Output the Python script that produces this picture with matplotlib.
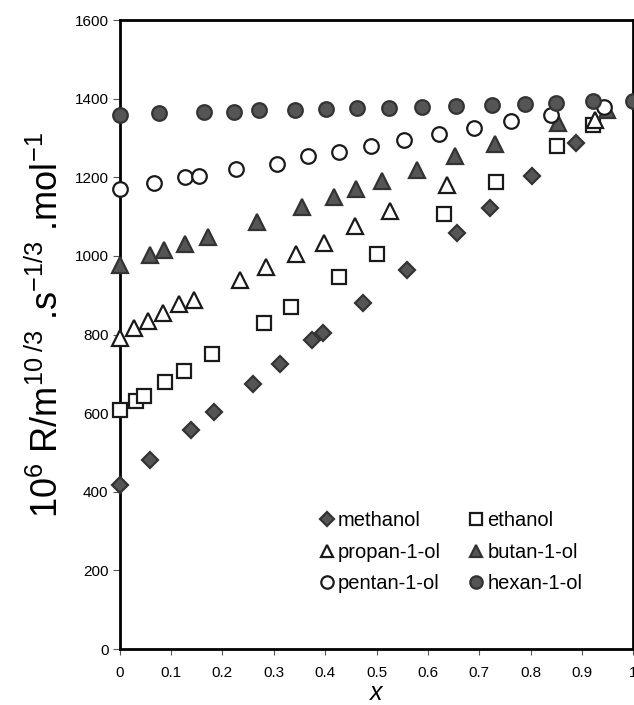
import numpy as np
import matplotlib as mpl

mpl.use('Agg')
import matplotlib.pyplot as plt

plt.rcParams['font.family'] = ['Liberation Sans', 'DejaVu Sans']
plt.rcParams['mathtext.fontset'] = 'custom'
plt.rcParams['mathtext.rm'] = 'Liberation Sans'
plt.rcParams['mathtext.it'] = 'Liberation Sans:italic'
plt.rcParams['mathtext.default'] = 'regular'

# values
x_methanol = [0, 0.060, 0.140, 0.184, 0.260, 0.312, 0.375, 0.395, 0.473, 0.560, 0.656, 0.721, 0.803, 0.889]
y_methanol = [417, 481, 557, 602, 674, 724, 786, 805, 881, 963, 1058, 1121, 1202, 1288]

x_ethanol = [0, 0.032, 0.047, 0.088, 0.126, 0.179, 0.282, 0.333, 0.427, 0.501, 0.631, 0.732, 0.851, 0.922]
y_ethanol = [608, 632, 644, 679, 708, 750, 830, 871, 946, 1004, 1107, 1187, 1280, 1334]

x_propanol = [0, 0.028, 0.056, 0.085, 0.116, 0.145, 0.234, 0.285, 0.344, 0.397, 0.459, 0.526, 0.638, 0.925]
y_propanol = [791, 816, 835, 854, 878, 888, 939, 971, 1005, 1034, 1075, 1115, 1181, 1346]

x_butanol = [0, 0.060, 0.086, 0.127, 0.173, 0.268, 0.355, 0.418, 0.460, 0.510, 0.578, 0.653, 0.731, 0.854, 0.948]
y_butanol = [977, 1003, 1014, 1031, 1048, 1087, 1124, 1151, 1170, 1191, 1219, 1253, 1284, 1338, 1370]

x_pentanol = [0, 0.067, 0.128, 0.155, 0.226, 0.307, 0.367, 0.427, 0.489, 0.553, 0.621, 0.689, 0.762, 0.840, 0.942]
y_pentanol = [1170, 1185, 1200, 1204, 1221, 1234, 1253, 1265, 1280, 1295, 1310, 1325, 1342, 1359, 1380]

x_hexanol = [0, 0.076, 0.165, 0.222, 0.272, 0.342, 0.402, 0.463, 0.524, 0.588, 0.655, 0.724, 0.789, 0.850, 0.922, 1.0]
y_hexanol = [1359, 1363, 1365, 1367, 1372, 1372, 1374, 1375, 1377, 1380, 1382, 1383, 1386, 1389, 1393, 1395]

dark = '#555555'
series = [
    ('methanol', x_methanol, y_methanol, 'D', dark, 8.5),
    ('ethanol', x_ethanol, y_ethanol, 's', 'white', 10),
    ('propan-1-ol', x_propanol, y_propanol, '^', 'white', 11),
    ('butan-1-ol', x_butanol, y_butanol, '^', dark, 11),
    ('pentan-1-ol', x_pentanol, y_pentanol, 'o', 'white', 10.5),
    ('hexan-1-ol', x_hexanol, y_hexanol, 'o', dark, 10.5),
]

fig = plt.figure(figsize=(6.34, 7.05), dpi=100)
ax = fig.add_axes([0.1885, 0.0794, 0.8107, 0.8922])

handles = {}
for name, xs, ys, mk, fc, ms in series:
    ec = '#1a1a1a' if fc == 'white' else '#333333'
    h, = ax.plot(xs, ys, linestyle='none', marker=mk, markersize=ms,
                 markerfacecolor=fc, markeredgecolor=ec, markeredgewidth=1.6,
                 clip_on=False, zorder=5, label=name)
    handles[name] = h

ax.set_xlim(0, 1)
ax.set_ylim(0, 1600)
ax.set_xticks(np.arange(0, 1.01, 0.1))
ax.set_xticklabels(['0', '0.1', '0.2', '0.3', '0.4', '0.5', '0.6', '0.7', '0.8', '0.9', '1'])
ax.set_yticks(np.arange(0, 1601, 200))

for sp in ax.spines.values():
    sp.set_linewidth(2.0)
    sp.set_color('black')

ax.tick_params(axis='both', direction='out', labelsize=11, width=0.8, color='#555555')
ax.tick_params(axis='y', length=5, pad=3)
ax.tick_params(axis='x', length=4, pad=8)

ax.set_ylabel(r'10$^6$ R/m$^{10\;/3}$ .s$^{-1/3}$ .mol$^{-1}$', fontsize=26, labelpad=6)
ax.yaxis.set_label_coords(-0.104, 0.515)
ax.set_xlabel('x', fontsize=18, fontstyle='italic', labelpad=1)

order = ['methanol', 'propan-1-ol', 'pentan-1-ol', 'ethanol', 'butan-1-ol', 'hexan-1-ol']
ax.legend([handles[n] for n in order], order, ncol=2, frameon=False,
          fontsize=14.5, loc='upper left', bbox_to_anchor=(0.378, 0.232),
          handlelength=0.5, handletextpad=0.3, columnspacing=1.5,
          labelspacing=0.62, markerscale=0.85, borderaxespad=0)

fig.savefig('out.png', dpi=100)
